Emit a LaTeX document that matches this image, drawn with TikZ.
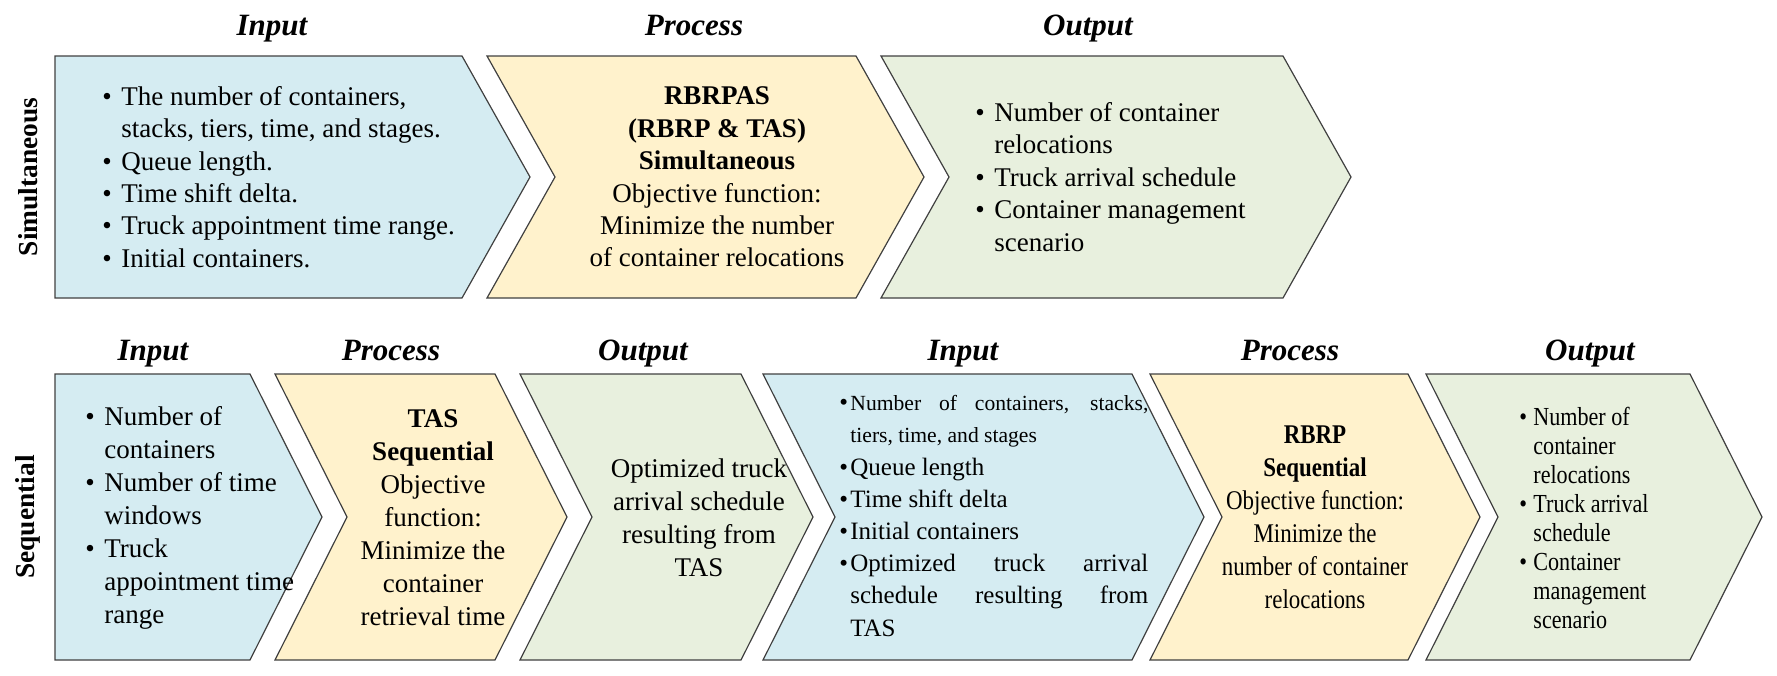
\documentclass[tikz,border=0pt]{standalone}
\usepackage{fontspec}
\setmainfont{Liberation Serif}
\newfontfamily\condfont[FakeStretch=0.85]{Liberation Serif}
\definecolor{inblue}{HTML}{D5ECF2}
\definecolor{proyel}{HTML}{FFF2CC}
\definecolor{outgrn}{HTML}{E8F0DE}
\definecolor{edgegray}{HTML}{404040}
\newcommand\bul{\makebox[9.5pt][l]{\textbullet}}
\newcommand\ind{\hspace*{9.5pt}}
\newcommand\bulb{\makebox[5.5pt][l]{\textbullet}}
\newcommand\indb{\hspace*{5.5pt}}
\newcommand\chevpath[7]{% fill, L, notch, R, depth, T, B
  \filldraw[chev, fill=#1] (#2,#6) -- (#4,#6) -- ({#4+#5},{(#6+#7)/2}) -- (#4,#7) -- (#2,#7) -- ({#2+#3},{(#6+#7)/2}) -- cycle;}
\tikzset{
  chev/.style={draw=edgegray, line width=0.6pt, line join=miter},
  body/.style={font=\fontsize{13.5}{16.2}\selectfont, inner sep=0pt, align=left},
  bodyb/.style={font=\fontsize{13.5}{16.5}\selectfont, inner sep=0pt, align=left},
  ctr/.style={align=center},
  title/.style={font=\fontsize{15.5}{18}\selectfont\bfseries\itshape, inner sep=0pt, anchor=base},
  rowlab/.style={font=\fontsize{13.7}{15}\selectfont\bfseries, inner sep=0pt, rotate=90}
}
\begin{document}
\begin{tikzpicture}[x=0.5pt, y=-0.5pt]
\useasboundingbox (0,0) rectangle (1777,675);
% top row
\chevpath{inblue}{55}{0}{462}{68}{56}{298}
\chevpath{proyel}{487}{68}{856}{68}{56}{298}
\chevpath{outgrn}{881}{68}{1283}{68}{56}{298}
% bottom row
\chevpath{inblue}{55}{0}{250}{72}{374}{660}
\chevpath{proyel}{275}{72}{495}{72}{374}{660}
\chevpath{outgrn}{520}{72}{741}{72}{374}{660}
\chevpath{inblue}{763}{72}{1132}{72}{374}{660}
\chevpath{proyel}{1150}{72}{1408}{72}{374}{660}
\chevpath{outgrn}{1426}{72}{1690}{72}{374}{660}
% titles
\node[title] (t1) at (272,35) {Input};
\node[title] (t2) at (694,35) {Process};
\node[title] (t3) at (1088,35) {Output};
\node[title] (b1) at (153,360) {Input};
\node[title] (b2) at (391,360) {Process};
\node[title] (b3) at (643,360) {Output};
\node[title] (b4) at (963,360) {Input};
\node[title] (b5) at (1290,360) {Process};
\node[title] (b6) at (1590,360) {Output};
% row labels
\node[rowlab] (rs) at (28,177) {Simultaneous};
\node[rowlab] (rq) at (28,517) {Sequential};
% top texts
\node[body, anchor=west] (tin) at (102,177) {\bul The number of containers,\\ \ind stacks, tiers, time, and stages.\\ \bul Queue length.\\ \bul Time shift delta.\\ \bul Truck appointment time range.\\ \bul Initial containers.};
\node[body, ctr] (tpr) at (717,177) {\textbf{RBRPAS}\\ \textbf{(RBRP \& TAS)}\\ \textbf{Simultaneous}\\ Objective function:\\ Minimize the number\\ of container relocations};
\node[body, anchor=west] (tout) at (975,177) {\bul Number of container\\ \ind relocations\\ \bul Truck arrival schedule\\ \bul Container management\\ \ind scenario};
% bottom texts
\node[bodyb, anchor=west] (sin1) at (85,518) {\bul Number of\\ \ind containers\\ \bul Number of time\\ \ind windows\\ \bul Truck\\ \ind appointment time\\ \ind range};
\node[bodyb, ctr] (spr1) at (433,518) {\textbf{TAS}\\ \textbf{Sequential}\\ Objective\\ function:\\ Minimize the\\ container\\ retrieval time};
\node[bodyb, ctr] (sout1) at (699,518) {Optimized truck\\ arrival schedule\\ resulting from\\ TAS};
\node[font=\fontsize{12.5}{16.1}\selectfont, inner sep=0pt, align=left, anchor=west] (sin2) at (839,516) {\bulb\makebox[149pt][s]{\fontsize{10.8}{13}\selectfont Number of containers, stacks,}\\ \indb{\fontsize{10.8}{13}\selectfont tiers, time, and stages}\\ \bulb Queue length\\ \bulb Time shift delta\\ \bulb Initial containers\\ \bulb\makebox[149pt][s]{Optimized truck arrival}\\ \indb\makebox[149pt][s]{schedule resulting from}\\ \indb TAS};
\node[font=\fontsize{13.5}{16.5}\selectfont\condfont, inner sep=0pt, align=center] (spr2) at (1315,517) {\textbf{RBRP}\\ \textbf{Sequential}\\ Objective function:\\ Minimize the\\ number of container\\ relocations};
\node[font=\fontsize{13}{14.5}\selectfont\condfont, inner sep=0pt, align=left, anchor=west] (sout2) at (1519,518) {\makebox[7pt][l]{\textbullet}Number of\\ \hspace*{7pt}container\\ \hspace*{7pt}relocations\\ \makebox[7pt][l]{\textbullet}Truck arrival\\ \hspace*{7pt}schedule\\ \makebox[7pt][l]{\textbullet}Container\\ \hspace*{7pt}management\\ \hspace*{7pt}scenario};
\end{tikzpicture}
\end{document}
